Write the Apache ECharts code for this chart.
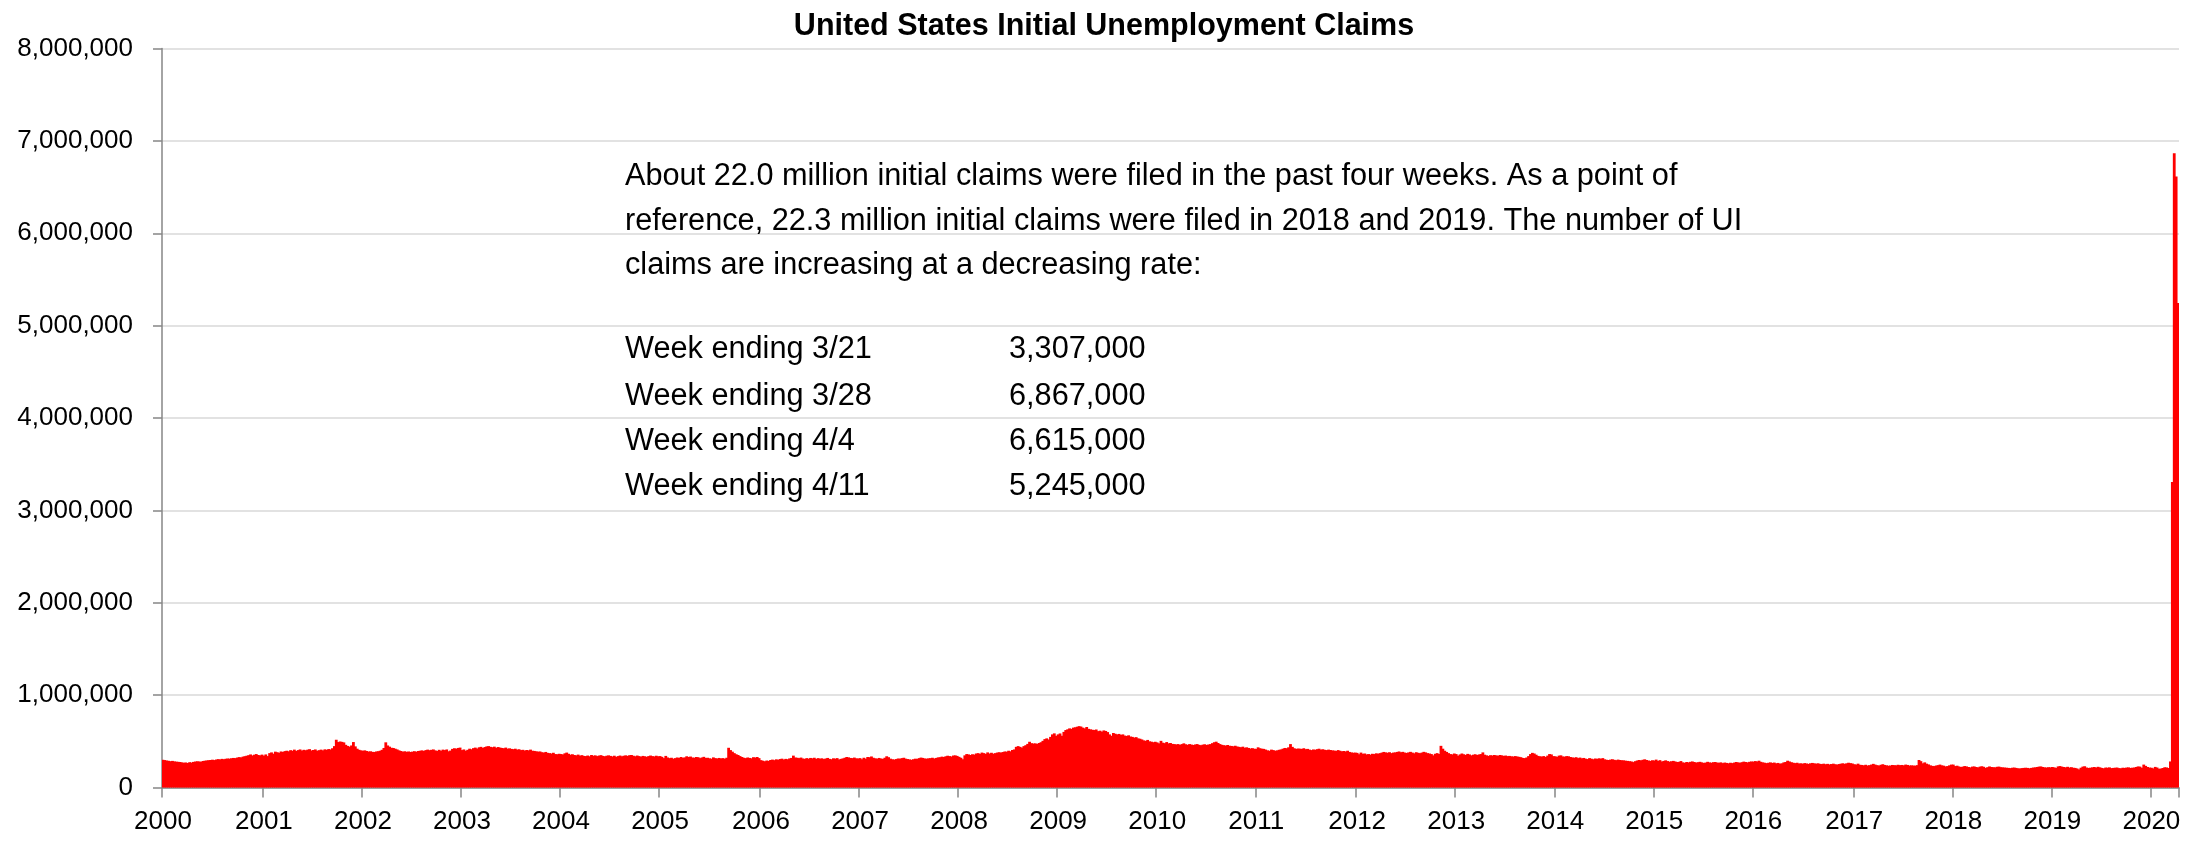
<!DOCTYPE html>
<html>
<head>
<meta charset="utf-8">
<script src="https://cdn.jsdelivr.net/npm/echarts@6/dist/echarts.min.js"></script>
<style>
  html, body { margin: 0; padding: 0; background: #ffffff; }
  #chart { width: 2208px; height: 842px; }
</style>
</head>
<body>
<div id="chart"></div>
<script>
// Weekly initial claims (seasonally adjusted), thousands. Week ending Saturdays, starting 2000-01-01.
const y2000 = [300,297,292,289,285,288,283,280,278,276,272,268,271, 265,274,270,277,281,284,282,279,287,290,293,296,298, 301,297,303,307,304,310,306,311,314,312,317,320,318, 324,329,326,334,339,344,350,358,347,355,362,352,348,356];
const y2001 = [345,358,340,372,380,366,388,382,376,390,385,394,398, 392,404,398,410,396,405,412,400,408,403,410,415,401, 406,412,398,404,410,402,413,408,416,412,425,448,517, 492,498,494,488,462,450,442,455,492,445,420,408,402];
const y2002 = [398,402,395,389,392,386,384,390,393,398,408,428,489, 455,442,430,428,420,412,402,395,388,392,386,390,385, 388,393,387,395,398,402,396,405,410,404,408,412,402, 395,408,398,410,405,412,392,400,418,425,420,428,432];
const y2003 = [405,412,398,408,420,414,426,432,422,435,440,428,438, 445,448,440,436,442,430,438,432,428,425,432,420,424, 418,415,420,410,414,405,408,400,406,402,410,398,396, 392,388,390,382,378,385,375,372,368,376,362,360,365];
const y2004 = [362,358,370,378,365,355,360,352,348,356,345,350,342, 340,346,338,352,344,348,340,346,350,342,338,344,348, 342,336,344,332,340,346,338,344,348,342,350,352,344, 338,346,340,334,342,338,332,340,346,340,336,344,338];
const y2005 = [340,332,318,342,325,318,322,312,318,325,320,330,322, 326,338,330,335,325,322,330,328,318,325,332,320,322, 316,312,326,318,314,320,315,318,312,322,430,405,388, 372,360,352,340,330,322,318,325,320,316,328,324,330,318];
const y2006 = [296,290,284,292,288,298,302,296,305,300,308,312,303, 310,306,315,320,345,325,322,318,324,314,310,318,312, 320,316,322,310,318,312,316,308,314,320,310,306,316, 312,318,304,310,315,322,330,326,320,318,324,316,314];
const y2007 = [318,306,322,312,330,328,336,322,316,312,320,314,310, 322,338,328,312,306,302,308,314,312,318,322,312,308, 304,300,306,312,310,318,324,320,314,312,316,318,322, 314,320,326,328,334,330,338,344,340,336,346,348,342];
const y2008 = [332,322,306,348,362,358,352,360,356,368,372,364,378, 372,364,380,368,376,366,372,378,382,378,384,390,388, 398,392,406,412,440,448,440,432,448,458,472,495,480, 476,478,472,482,490,505,524,532,520,548,575,586,560];
const y2009 = [575,585,560,602,622,630,640,635,648,652,658,664,660, 648,640,655,635,630,625,622,628,610,615,605,618,612, 600,575,560,590,582,575,580,570,575,562,558,565,552, 548,540,545,532,528,520,510,505,515,500,496,490,495];
const y2010 = [488,478,505,485,480,492,478,482,472,470,466,470,462, 470,478,468,462,470,465,460,466,470,462,458,464,468, 460,466,470,480,490,496,482,470,462,458,454,460,452, 450,446,452,444,440,436,442,430,435,428,422,426,420];
const y2011 = [418,435,425,420,418,410,402,398,410,405,398,402,408, 412,420,428,425,435,470,440,425,418,422,420,418,425, 415,418,410,405,412,408,415,420,410,414,408,405,410, 406,402,400,396,405,398,392,395,390,398,385,380,376,378];
const y2012 = [375,360,378,365,368,358,362,356,365,362,370,366,372, 378,385,380,376,382,372,378,380,385,390,382,386,378, 374,380,386,378,370,382,376,372,378,386,380,372,368, 362,348,365,372,363,451,420,398,385,372,362,358,368];
const y2013 = [362,345,358,368,360,352,364,358,348,355,360,352,358, 362,380,355,348,342,350,346,352,348,344,352,348,342, 346,340,342,338,335,340,336,332,328,320,318,325,340, 362,375,368,355,342,338,335,340,330,345,362,358,340];
const y2014 = [338,332,345,348,336,334,340,338,330,326,322,328,318, 324,316,320,312,308,318,312,306,314,310,316,312,318, 305,300,298,302,306,300,296,302,298,295,294,290,288, 285,282,275,285,292,298,294,300,305,298,292,288,295];
const y2015 = [292,302,288,296,282,288,294,286,280,284,288,282,276, 278,286,272,268,276,272,278,282,276,270,274,278,272, 266,270,278,272,268,274,276,270,268,272,264,270,266, 262,268,264,270,276,272,268,274,280,276,272,278,282];
const y2016 = [280,286,282,290,278,272,268,264,268,272,266,270,262, 266,258,262,272,276,290,282,274,268,264,268,260,262, 258,264,260,256,262,266,262,258,262,256,254,258,252, 256,250,254,258,252,248,254,258,262,256,262,268,264,260];
const y2017 = [252,248,258,246,244,240,246,238,242,248,256,248,242, 238,246,252,244,240,236,238,244,242,240,246,242,244, 240,248,244,238,240,238,236,242,298,285,262,272,258, 250,240,234,232,238,242,248,240,236,228,232,240,248];
const y2018 = [248,232,236,228,222,226,232,228,222,218,226,228,222, 218,226,230,224,212,220,228,222,220,218,224,226,220, 218,216,214,212,210,214,216,212,208,206,210,212,214, 212,208,212,216,218,222,226,228,222,218,216,220,218];
const y2019 = [222,218,212,228,232,226,222,218,224,216,220,214,212, 206,196,214,226,230,216,212,214,218,222,216,224,218, 212,208,216,214,218,210,212,214,216,210,208,214,212, 216,218,212,214,216,222,228,226,214,248,234,222,216];
const y2020 = [214,207,223,216,203,205,211,219,217,211,282,3307,6867,6615,5245];

const firstWeekEnding = '2000-01-01';
const yTickValues = [0, 1000000, 2000000, 3000000, 4000000, 5000000, 6000000, 7000000, 8000000];
const chartTitle = 'United States Initial Unemployment Claims';
const noteLines = [
  'About 22.0 million initial claims were filed in the past four weeks. As a point of',
  'reference, 22.3 million initial claims were filed in 2018 and 2019. The number of UI',
  'claims are increasing at a decreasing rate:'
];
const noteWeeks = ['Week ending 3/21', 'Week ending 3/28', 'Week ending 4/4', 'Week ending 4/11'];

// Build series
const thousands = [].concat(y2000, y2001, y2002, y2003, y2004, y2005, y2006, y2007, y2008, y2009,
  y2010, y2011, y2012, y2013, y2014, y2015, y2016, y2017, y2018, y2019, y2020);
const values = thousands.map(v => v * 1000);
const start = Date.parse(firstWeekEnding + 'T00:00:00Z');
const cats = values.map((v, i) => new Date(start + i * 7 * 86400000).toISOString().slice(0, 10));
const isYearStart = (idx) => idx === 0 || cats[idx].slice(0, 4) !== cats[idx - 1].slice(0, 4);

const fmt = v => Math.round(v).toLocaleString('en-US');
const regular = "'Liberation Sans', Arial, sans-serif";

const chart = echarts.init(document.getElementById('chart'), null, { renderer: 'canvas' });

const textX = 625, numX = 1009;
const lineYs = [176, 221, 265];
const weekYs = [349, 396, 441, 486];
const noteFont = '30.7px ' + regular;
const graphics = [];
function addText(t, x, y) {
  graphics.push({
    type: 'text', x: x, y: y, z: 10, scaleY: 1.05, silent: true,
    style: { text: t, fill: '#000', font: noteFont, verticalAlign: 'middle', textVerticalAlign: 'middle' }
  });
}
noteLines.forEach((t, i) => addText(t, textX, lineYs[i]));
const last4 = values.slice(-4);
noteWeeks.forEach((t, i) => {
  addText(t, textX, weekYs[i]);
  addText(fmt(last4[i]), numX, weekYs[i]);
});

chart.setOption({
  animation: false,
  backgroundColor: '#ffffff',
  title: {
    text: chartTitle,
    left: 'center',
    top: 6,
    textStyle: { fontFamily: regular, fontWeight: 'bold', fontSize: 30.5, lineHeight: 32, color: '#000' }
  },
  grid: { left: 162, right: 29, top: 48.5, bottom: 54.5, containLabel: false },
  xAxis: {
    type: 'category',
    data: cats,
    boundaryGap: true,
    axisLine: { show: true, lineStyle: { color: '#868686', width: 1.5 } },
    axisTick: { show: true, length: 10, interval: (idx) => isYearStart(idx), lineStyle: { color: '#868686', width: 1.5 } },
    axisLabel: {
      interval: (idx) => isYearStart(idx),
      formatter: v => v.slice(0, 4),
      margin: 21,
      color: '#000',
      fontFamily: regular,
      fontSize: 26
    },
    splitLine: { show: false }
  },
  yAxis: {
    type: 'value',
    min: yTickValues[0],
    max: yTickValues[yTickValues.length - 1],
    interval: yTickValues[1] - yTickValues[0],
    axisLine: { show: true, lineStyle: { color: '#868686', width: 1.5 } },
    axisTick: { show: true, length: 9, lineStyle: { color: '#868686', width: 1.5 } },
    axisLabel: { formatter: fmt, margin: 29, color: '#000', fontFamily: regular, fontSize: 26 },
    splitLine: { show: true, lineStyle: { color: '#d9d9d9', width: 1.5 } }
  },
  series: [{
    type: 'bar',
    data: values,
    barWidth: 2.8,
    itemStyle: { color: '#ff0000' },
    emphasis: { disabled: true }
  }],
  graphic: graphics
});
</script>
</body>
</html>
